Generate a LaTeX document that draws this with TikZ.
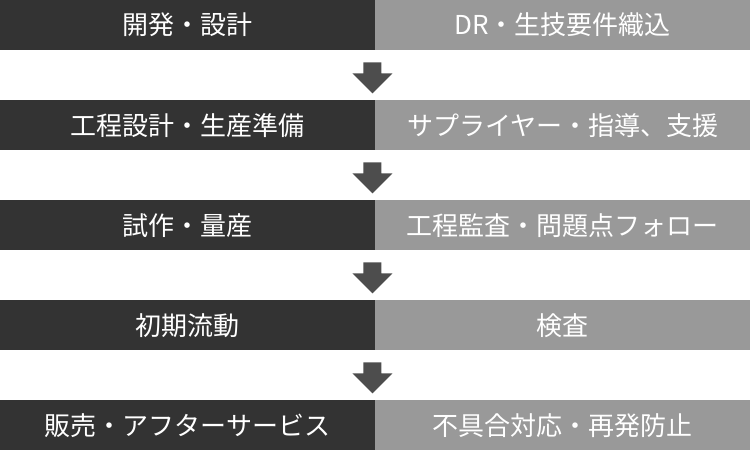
\documentclass[tikz,border=0pt]{standalone}
\usepackage{fontspec}
\setmainfont{Noto Sans CJK JP}
\usetikzlibrary{calc}
\definecolor{darkbox}{HTML}{333333}
\definecolor{lightbox}{HTML}{999999}
\definecolor{arrowc}{HTML}{4D4D4D}
\tikzset{
  leftbox/.style={fill=darkbox, draw=none, minimum width=375bp, minimum height=50bp, inner sep=0pt, text=white, font=\fontsize{26bp}{28bp}\selectfont, anchor=north west},
  rightbox/.style={fill=lightbox, draw=none, minimum width=375bp, minimum height=50bp, inner sep=0pt, text=white, font=\fontsize{26bp}{28bp}\selectfont, anchor=north west},
}
\begin{document}
\begin{tikzpicture}[x=1bp,y=-1bp]
\useasboundingbox (0,0) rectangle (750,450);
\node[leftbox] (l1) at (0,0) {開発・設計};
\node[rightbox] (r1) at (375,0) {DR・生技要件織込};
\node[leftbox] (l2) at (0,100) {工程設計・生産準備};
\node[rightbox] (r2) at (375,100) {サプライヤー・指導、支援};
\node[leftbox] (l3) at (0,200) {試作・量産};
\node[rightbox] (r3) at (375,200) {工程監査・問題点フォロー};
\node[leftbox] (l4) at (0,300) {初期流動};
\node[rightbox] (r4) at (375,300) {検査};
\node[leftbox] (l5) at (0,400) {販売・アフターサービス};
\node[rightbox] (r5) at (375,400) {不具合対応・再発防止};
\foreach \i in {1,...,4}{
  \coordinate (a\i) at (l\i.south east);
  \fill[arrowc] ($(a\i)+(-12,12)$) -- ++(18,0) -- ++(0,11) -- ++(11,0) -- ++(-20,20) -- ++(-20,-20) -- ++(11,0) -- cycle;
}
\end{tikzpicture}
\end{document}
